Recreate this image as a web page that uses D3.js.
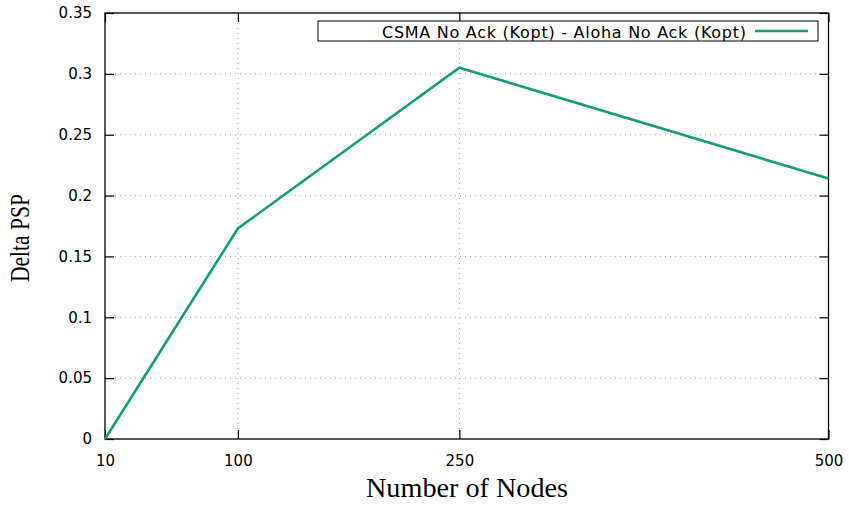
<!DOCTYPE html>
<html><head><meta charset="utf-8">
<script src="https://cdn.jsdelivr.net/npm/d3@7"></script>
<style>body{margin:0;background:#fff}svg{display:block}</style>
</head><body>
<script>
const nodes = [10, 100, 250, 500];
const deltaPSP = [0, 0.173, 0.305, 0.214];
const xTicks = [10, 100, 250, 500];
const yTicks = [0, 0.05, 0.1, 0.15, 0.2, 0.25, 0.3, 0.35];
const seriesName = "CSMA No Ack (Kopt) - Aloha No Ack (Kopt)";
const xTitle = "Number of Nodes";
const yTitle = "Delta PSP";

const W = 849, H = 506;
const L = 105, R = 828.5, T = 13, B = 439;
const svg = d3.select("body").append("svg").attr("width", W).attr("height", H);
const x = d3.scaleLinear().domain([10, 500]).range([L, R]);
const y = d3.scaleLinear().domain([0, 0.35]).range([B, T]);

// grid
const grid = svg.append("g").attr("stroke", "#a8a8a8").attr("stroke-width", 1).attr("stroke-dasharray", "1,4");
xTicks.filter(d => d !== 10 && d !== 500).forEach(d => {
  grid.append("line").attr("x1", x(d)).attr("x2", x(d)).attr("y1", T).attr("y2", B);
});
yTicks.filter(d => d !== 0 && d !== 0.35).forEach(d => {
  grid.append("line").attr("x1", L).attr("x2", R).attr("y1", y(d)).attr("y2", y(d));
});

// axes with inward ticks (mirrored)
const tk = 9;
const axFont = "DejaVu Sans, sans-serif";
const gB = svg.append("g").attr("transform", `translate(0,${B})`)
  .call(d3.axisBottom(x).tickValues(xTicks).tickSizeInner(-tk).tickSizeOuter(0).tickPadding(16).tickFormat(d3.format("d")));
const gT = svg.append("g").attr("transform", `translate(0,${T})`)
  .call(d3.axisTop(x).tickValues(xTicks).tickSizeInner(-tk).tickSizeOuter(0).tickFormat(""));
const gL = svg.append("g").attr("transform", `translate(${L},0)`)
  .call(d3.axisLeft(y).tickValues(yTicks).tickSizeInner(-tk).tickSizeOuter(0).tickPadding(13).tickFormat(d => d3.format("")(+d.toFixed(2))));
const gR = svg.append("g").attr("transform", `translate(${R},0)`)
  .call(d3.axisRight(y).tickValues(yTicks).tickSizeInner(-tk).tickSizeOuter(0).tickFormat(""));
[gB, gT, gL, gR].forEach(g => {
  g.select(".domain").remove();
  g.selectAll("line").attr("stroke", "#000").attr("stroke-width", 1.2);
  g.selectAll("text").attr("font-family", axFont).attr("font-size", 15).attr("fill", "#000");
});

// frame
svg.append("rect").attr("x", L).attr("y", T).attr("width", R - L).attr("height", B - T)
  .attr("fill", "none").attr("stroke", "#000").attr("stroke-width", 1.3);

// line
const data = nodes.map((n, i) => [n, deltaPSP[i]]);
svg.append("path").datum(data)
  .attr("d", d3.line().x(d => x(d[0])).y(d => y(d[1])))
  .attr("fill", "none").attr("stroke", "#129e78").attr("stroke-width", 2.6).attr("stroke-linejoin", "miter");

// legend
const lg = svg.append("g");
lg.append("rect").attr("x", 318).attr("y", 21).attr("width", 500).attr("height", 20)
  .attr("fill", "#fff").attr("stroke", "#000").attr("stroke-width", 1);
lg.append("text").attr("x", 746).attr("y", 37.5).attr("text-anchor", "end")
  .attr("font-family", axFont).attr("font-size", 16)
  .attr("textLength", 364).attr("lengthAdjust", "spacing").text(seriesName);
lg.append("line").attr("x1", 755).attr("x2", 808).attr("y1", 31).attr("y2", 31)
  .attr("stroke", "#129e78").attr("stroke-width", 2.6);

// titles
svg.append("text").attr("x", 467).attr("y", 497).attr("text-anchor", "middle")
  .attr("font-family", "Liberation Serif, Times New Roman, serif").attr("font-size", 27)
  .attr("textLength", 202).attr("lengthAdjust", "spacingAndGlyphs").text(xTitle);
svg.append("text").attr("transform", "translate(29,238) rotate(-90)").attr("text-anchor", "middle")
  .attr("font-family", "Liberation Serif, Times New Roman, serif").attr("font-size", 27)
  .attr("textLength", 88).attr("lengthAdjust", "spacingAndGlyphs").text(yTitle);
</script>
</body></html>
